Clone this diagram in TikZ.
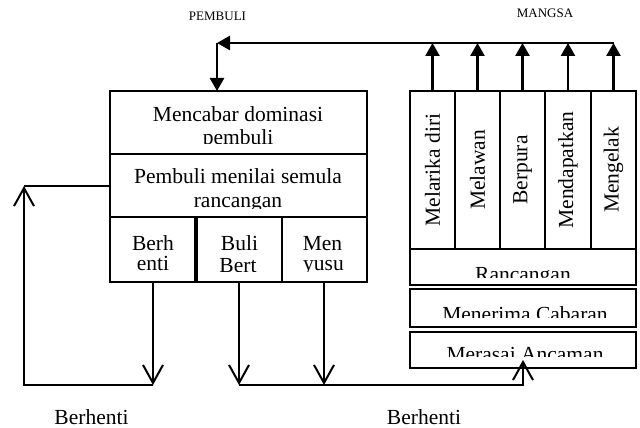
\documentclass[tikz,border=0pt]{standalone}
\usepackage{fontspec}
\setmainfont{Liberation Serif}
\usetikzlibrary{arrows.meta}
\newcommand\bigfont{\fontsize{21.5}{23}\selectfont}
\newcommand\tagfont{\fontsize{13}{15}\selectfont}
\begin{document}
\begin{tikzpicture}[x=1pt,y=-1pt,
  cell/.style={draw, line width=2pt, inner sep=0pt, outer sep=0pt},
  txt/.style={font=\bigfont, anchor=base, inner sep=0pt},
  vtxt/.style={font=\bigfont, rotate=90, inner sep=0pt},
  tag/.style={font=\tagfont, anchor=base, inner sep=0pt},
  flow/.style={line width=2.6pt, -{Triangle[length=13pt,width=14pt]}},
  feed/.style={line width=1.3pt, -{Straight Barb[length=18pt,width=20pt,line width=2pt]}},
  link/.style={line width=1.3pt},
]
\useasboundingbox (0,0) rectangle (640,428);

% headings
\node[tag] (pembuli) at (217.5,21) {PEMBULI};
\node[tag] (mangsa) at (545,18) {MANGSA};

% left block: texts clipped to their boxes
\begin{scope}
  \clip (110,91) rectangle (367,143);
  \node[txt] (t1a) at (238,121.5) {Mencabar dominasi};
  \node[txt] (t1b) at (238,144) {pembuli};
\end{scope}
\begin{scope}
  \clip (110,154) rectangle (367,208);
  \node[txt] (t2a) at (238,183) {Pembuli menilai semula};
  \node[txt] (t2b) at (238,207.5) {rancangan};
\end{scope}
\begin{scope}
  \clip (110,217) rectangle (367,271);
  \node[txt] (t3a) at (153,250) {Berh};
  \node[txt] (t3b) at (153,270) {enti};
  \node[txt] (t4a) at (239.5,250) {Buli};
  \node[txt] (t4b) at (238,272) {Bert};
  \node[txt] (t5a) at (322.5,250) {Men};
  \node[txt] (t5b) at (323.5,270) {yusu};
\end{scope}

\node[cell, minimum width=257pt, minimum height=63pt] (L1) at (238.5,122.5) {};
\node[cell, minimum width=257pt, minimum height=63pt] (L2) at (238.5,185.5) {};
\node[cell, minimum width=86pt, minimum height=65pt] (C1) at (153,249.5) {};
\node[cell, minimum width=86pt, minimum height=65pt] (C2) at (239,249.5) {};
\node[cell, minimum width=85pt, minimum height=65pt] (C3) at (324.5,249.5) {};
% heavier divider between the first two cells
\draw[line width=3.5pt] (C2.north west) -- (C2.south west);

% right block: five response columns
\node[cell, minimum width=45pt, minimum height=158pt] (R1) at (432.5,170) {};
\node[cell, minimum width=45pt, minimum height=158pt] (R2) at (477.5,170) {};
\node[cell, minimum width=45pt, minimum height=158pt] (R3) at (522.5,170) {};
\node[cell, minimum width=46pt, minimum height=158pt] (R4) at (568,170) {};
\node[cell, minimum width=45pt, minimum height=158pt] (R5) at (613.5,170) {};
\node[vtxt] (v1) at (R1) {Melarika diri};
\node[vtxt] (v2) at (R2) {Melawan};
\node[vtxt] (v3) at (R3) {Berpura};
\node[vtxt] (v4) at (R4) {Mendapatkan};
\node[vtxt] (v5) at (R5) {Mengelak};

\begin{scope}
  \clip (410,249) rectangle (636,277);
  \node[txt] (r1) at (523,281) {Rancangan};
\end{scope}
\begin{scope}
  \clip (410,289) rectangle (636,317);
  \node[txt] (r2) at (525,321) {Menerima Cabaran};
\end{scope}
\begin{scope}
  \clip (410,332) rectangle (636,356);
  \node[txt] (r3) at (525,361) {Merasai Ancaman};
\end{scope}
\node[cell, minimum width=226pt, minimum height=36pt] (Ra) at (523,267) {};
\node[cell, minimum width=226pt, minimum height=38pt] (Me) at (523,308) {};
\node[cell, minimum width=226pt, minimum height=36pt] (Mr) at (523,350) {};

% bottom labels
\node[txt] (s1) at (91.5,424) {Berhenti};
\node[txt] (s2) at (424,424) {Berhenti};

% top feedback from the victim's responses to the bully
\coordinate (tR) at (614,43);
\coordinate (tL) at (217,43);
\foreach \r in {R1,R2,R3,R4,R5}
  \draw[flow] (\r.north) -- (\r.north |- tR);
\draw[flow] (tR) -- (tL);
\draw[flow] (tL) -- (tL |- L1.north);

% bottom connectors
\coordinate (bl) at (24,385);
\coordinate (tl) at (24,186);
\coordinate (c3s) at ([xshift=-0.5pt]C3.south);
\draw[feed] (C1.south) -- (C1.south |- bl);
\draw[feed] (C2.south) -- (C2.south |- bl);
\draw[feed] (c3s) -- (c3s |- bl);
\draw[feed] (C1.south |- bl) -- (bl) -- (tl);
\draw[link] (tl) -- (tl -| L2.west);
\draw[feed] (C2.south |- bl) -- (Mr.south |- bl) -- ([yshift=8pt]Mr.south);
\end{tikzpicture}
\end{document}
